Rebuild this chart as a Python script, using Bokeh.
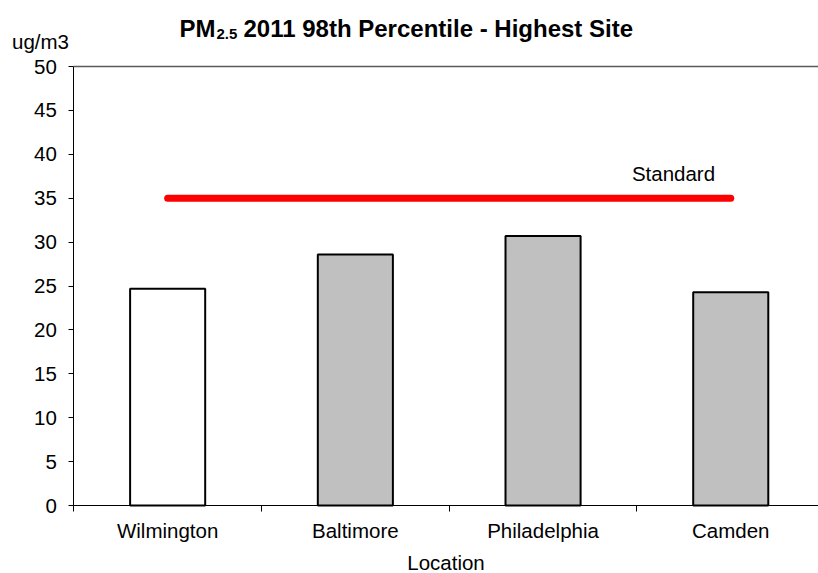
import numpy as np
from bokeh.plotting import figure
from bokeh.models import Range1d, FixedTicker, Label
from bokeh.embed import file_html
from bokeh.resources import INLINE

# PM2.5 98th percentile (2011), highest monitoring site per location
locations = ["Wilmington", "Baltimore", "Philadelphia", "Camden"]
pm25_98th = [24.7, 28.6, 30.7, 24.3]
standard = 35
y_ticks = [0, 5, 10, 15, 20, 25, 30, 35, 40, 45, 50]

FONT = "Liberation Sans"
FS = "20.5px"
W, H = 818, 573
n = len(locations)
centers = np.arange(n) + 0.5
fills = ["white"] + ["#C0C0C0"] * (n - 1)

# The frame covers the whole canvas; axes are pinned at x=0 / y=0 so the
# title and unit label can sit in data space above the value range.
left_px, bottom_px, top_px = 73.3, 505.0, 66.0
px_per_cat = 187.7
px_per_unit = (bottom_px - top_px) / y_ticks[-1]
x_lo = -left_px / px_per_cat
x_hi = (W - left_px) / px_per_cat
y_hi = bottom_px / px_per_unit
y_lo = -(H - bottom_px) / px_per_unit

p = figure(width=W, height=H, output_backend="svg", toolbar_location=None,
           x_range=Range1d(x_lo, x_hi), y_range=Range1d(y_lo, y_hi),
           min_border=0)
p.outline_line_color = None
p.background_fill_color = "white"
p.border_fill_color = "white"
p.xgrid.grid_line_color = None
p.ygrid.grid_line_color = None

p.vbar(x=centers, top=pm25_98th, width=0.4, bottom=0,
       fill_color=fills, line_color="black", line_width=2)

# standard line spanning the first to the last location
p.line(x=[centers[0], centers[-1]], y=[standard, standard],
       line_color="#FF0000", line_width=7, line_cap="round")
p.add_layout(Label(x=3.195, y=37.8, text="Standard", text_font=FONT, text_font_size=FS,
                   text_align="center", text_baseline="middle", text_color="black"))

# top edge of the plot area
p.line(x=[0, x_hi], y=[y_ticks[-1], y_ticks[-1]], line_color="#5a5a5a", line_width=1.5)

# category axis: labels at the bar centres, tick marks on category boundaries
xa = p.xaxis[0]
xa.fixed_location = 0
xa.bounds = (0, x_hi)
xa.ticker = FixedTicker(ticks=list(centers), minor_ticks=list(range(n)))
xa.major_label_overrides = {float(c): name for c, name in zip(centers, locations)}
xa.major_tick_out = 0
xa.major_tick_in = 0
xa.minor_tick_out = 6
xa.minor_tick_in = 0
xa.minor_tick_line_color = "black"
xa.axis_line_color = "black"
xa.major_label_standoff = 7
xa.major_label_text_font = FONT
xa.major_label_text_font_size = FS
xa.major_label_text_color = "black"
xa.axis_label = "Location"
xa.axis_label_text_font = FONT
xa.axis_label_text_font_size = FS
xa.axis_label_text_font_style = "normal"
xa.axis_label_text_color = "black"
xa.axis_label_standoff = 6

ya = p.yaxis[0]
ya.fixed_location = 0
ya.bounds = (y_ticks[0], y_ticks[-1])
ya.ticker = FixedTicker(ticks=y_ticks)
ya.major_tick_out = 5
ya.major_tick_in = 0
ya.minor_tick_line_color = None
ya.axis_line_color = "black"
ya.major_tick_line_color = "black"
ya.major_label_standoff = 12
ya.major_label_text_font = FONT
ya.major_label_text_font_size = FS
ya.major_label_text_color = "black"

# unit label above the y axis
p.add_layout(Label(x=(40 - left_px) / px_per_cat, y=(bottom_px - 41) / px_per_unit,
                   text="ug/m3", text_font=FONT, text_font_size=FS,
                   text_align="center", text_baseline="middle", text_color="black"))

# title with subscripted 2.5
tx = (215 - left_px) / px_per_cat
ty = (bottom_px - 28) / px_per_unit
p.add_layout(Label(x=tx, y=ty, text="PM", text_font=FONT, text_font_size="24px",
                   text_font_style="bold", text_align="right", text_baseline="alphabetic",
                   text_color="black"))
p.add_layout(Label(x=tx, y=ty, x_offset=1, y_offset=-5, text="2.5", text_font=FONT,
                   text_font_size="15px", text_font_style="bold", text_align="left",
                   text_baseline="alphabetic", text_color="black"))
p.add_layout(Label(x=tx, y=ty, x_offset=28, text="2011 98th Percentile - Highest Site",
                   text_font=FONT, text_font_size="24px", text_font_style="bold",
                   text_align="left", text_baseline="alphabetic", text_color="black"))

open("out.html", "w").write(file_html(p, INLINE))
